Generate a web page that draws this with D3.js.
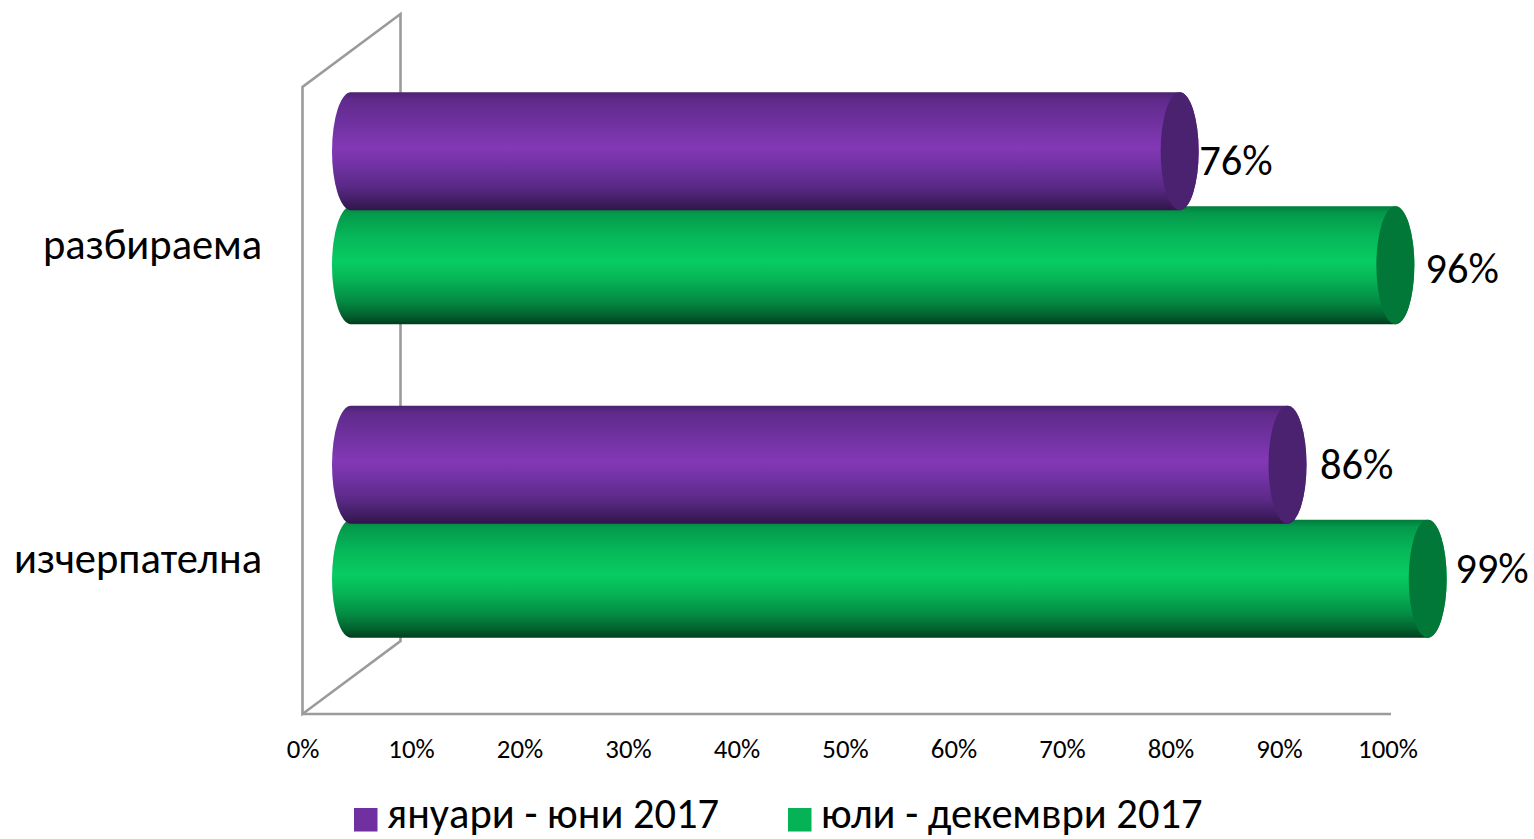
<!DOCTYPE html>
<html lang="bg">
<head>
<meta charset="utf-8">
<script src="https://cdn.jsdelivr.net/npm/d3@7/dist/d3.min.js"></script>
<style>
html,body{margin:0;padding:0;background:#fff;overflow:hidden}
svg{display:block}
text{font-family:Carlito,Calibri,Lato,"Open Sans","Noto Sans",sans-serif;fill:#000}
</style>
</head>
<body>
<script>
// Satisfaction ratings per half-year, in percent
const categories = ["разбираема", "изчерпателна"];
const seriesNames = ["януари - юни 2017", "юли - декември 2017"];
const janJun = [76, 86];
const julDec = [96, 99];
const tickValues = [0, 10, 20, 30, 40, 50, 60, 70, 80, 90, 100];

const W = 1534, H = 839;
const bigFont = "42.5px", tickFont = "26.8px";
const svg = d3.select("body").append("svg").attr("width", W).attr("height", H);
const defs = svg.append("defs");

// Cylinder shading: dark rims with a lighter band just above the middle
const palettes = [
  {id: "cylPurple", cap: "#4a2270", swatch: "#7030a0",
   stops: [[0, "#4a2370"], [.06, "#5f2a8a"], [.25, "#6f319f"], [.47, "#8338b6"], [.62, "#7132a4"], [.8, "#5a2985"], [.93, "#3f1d60"], [1, "#2f1548"]]},
  {id: "cylGreen", cap: "#027838", swatch: "#05b356",
   stops: [[0, "#027c3d"], [.06, "#04994b"], [.25, "#06b658"], [.47, "#08cc62"], [.62, "#06b456"], [.8, "#048c44"], [.93, "#02602e"], [1, "#013c1c"]]}
];
palettes.forEach(p => {
  const g = defs.append("linearGradient").attr("id", p.id)
    .attr("x1", 0).attr("y1", 0).attr("x2", 0).attr("y2", 1);
  p.stops.forEach(s => g.append("stop").attr("offset", s[0]).attr("stop-color", s[1]));
});

// Axis plane and the depth-shifted plane the cylinders sit in
const xAxisScale = d3.scaleLinear().domain([0, 100]).range([302.5, 1387.5]);
const xBar = d3.scaleLinear().domain([0, 100]).range([360, 1438.5]);
const baseX = 351;
const yCat = d3.scaleBand().domain(categories).range([51.5, 678.5]);
const ySeries = d3.scaleBand().domain([0, 1]).range([-114, 114]);
const barH = 118, rx = 19;

// Side wall and floor edges
const depthX = 98, depthY = 73, floorY = 714;
const x0 = xAxisScale(0);
const wallColor = "#9b9b9b";
const wall = d3.path();
wall.moveTo(x0, floorY);
wall.lineTo(x0, floorY - 627);
wall.lineTo(x0 + depthX, floorY - 627 - depthY);
wall.lineTo(x0 + depthX, floorY - depthY);
wall.closePath();
svg.append("path").attr("d", wall.toString()).attr("fill", "none")
  .attr("stroke", wallColor).attr("stroke-width", 2.6).attr("stroke-linejoin", "miter");

// Bottom axis
const axis = d3.axisBottom(xAxisScale).tickValues(tickValues).tickSize(0).tickPadding(0)
  .tickFormat(d => d + "%");
const axisG = svg.append("g").attr("transform", `translate(0,${floorY})`).call(axis);
axisG.select(".domain").remove();
axisG.attr("font-family", null);
axisG.selectAll("text").attr("y", 43.5).attr("dy", 0).style("font-size", tickFont);
svg.append("line").attr("x1", x0).attr("x2", 1391).attr("y1", floorY).attr("y2", floorY)
  .attr("stroke", wallColor).attr("stroke-width", 2.6);

// Category labels
svg.selectAll(".cat").data(categories).join("text").attr("class", "cat")
  .attr("x", 262).attr("y", d => yCat(d) + yCat.bandwidth() / 2 + 51)
  .attr("text-anchor", "end").style("font-size", bigFont).text(d => d);

// One cylinder: rounded back end, flat body, elliptical end cap
function bodyPath(xStart, xEnd, yTop, h) {
  return `M${xStart},${yTop}L${xEnd},${yTop}A${rx},${h / 2} 0 0 1 ${xEnd},${yTop + h}L${xStart},${yTop + h}A${rx},${h / 2} 0 0 1 ${xStart},${yTop}Z`;
}

const rows = [];
categories.forEach((c, i) => {
  rows.push({cat: c, s: 1, v: julDec[i]});
  rows.push({cat: c, s: 0, v: janJun[i]});
});
const centerY = d => yCat(d.cat) + yCat.bandwidth() / 2 + (ySeries(d.s) + ySeries.bandwidth() / 2);

const bars = svg.selectAll(".bar").data(rows).join("g").attr("class", "bar");
bars.append("path")
  .attr("d", d => bodyPath(baseX, xBar(d.v), centerY(d) - barH / 2, barH))
  .attr("fill", d => `url(#${palettes[d.s].id})`);
bars.append("ellipse")
  .attr("cx", d => xBar(d.v)).attr("cy", centerY).attr("rx", rx).attr("ry", barH / 2)
  .attr("fill", d => palettes[d.s].cap);

// Value labels are hand-placed beside each cap
const labelShift = {"0-76": [19.5, 10], "1-96": [30, 3.5], "0-86": [32.5, 0], "1-99": [27.5, -9.5]};
svg.selectAll(".val").data(rows).join("text").attr("class", "val")
  .attr("x", d => xBar(d.v) + labelShift[d.s + "-" + d.v][0])
  .attr("y", d => centerY(d) + labelShift[d.s + "-" + d.v][1] + 14)
  .style("font-size", bigFont).text(d => d.v + "%");

// Legend
const legendX = d3.scaleOrdinal().domain([0, 1]).range([354, 788]);
const legend = svg.selectAll(".leg").data(seriesNames).join("g").attr("class", "leg")
  .attr("transform", (d, i) => `translate(${legendX(i)},808)`);
legend.append("rect").attr("width", 23.5).attr("height", 23.5).attr("fill", (d, i) => palettes[i].swatch);
legend.append("text").attr("x", 33).attr("y", 20).style("font-size", bigFont).text(d => d);
</script>
</body>
</html>
